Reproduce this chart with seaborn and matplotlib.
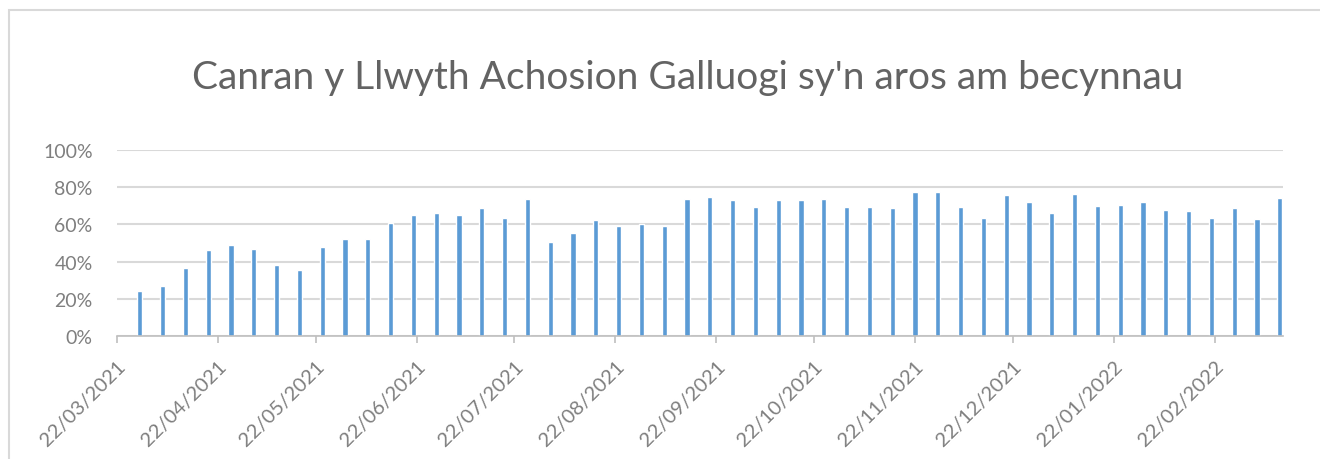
import pandas as pd
import matplotlib.pyplot as plt
import matplotlib.dates as mdates
import seaborn as sns
from matplotlib.patches import Rectangle
from matplotlib.ticker import PercentFormatter

# Weekly share of active caseload waiting for packages (fraction)
first_week = "2021-03-29"
n_weeks = 51
share = [0.242, 0.271, 0.363, 0.461, 0.490, 0.469, 0.384, 0.355, 0.476, 0.519,
         0.519, 0.609, 0.652, 0.659, 0.652, 0.686, 0.637, 0.736, 0.503, 0.553,
         0.623, 0.589, 0.601, 0.589, 0.736, 0.750, 0.729, 0.693, 0.729, 0.729,
         0.736, 0.693, 0.693, 0.686, 0.772, 0.772, 0.693, 0.637, 0.758, 0.722,
         0.659, 0.765, 0.700, 0.707, 0.722, 0.680, 0.673, 0.637, 0.686, 0.630,
         0.743]
axis_start = "2021-03-22"
title = "Canran y Llwyth Achosion Galluogi sy'n aros am becynnau"

weeks = pd.date_range(first_week, periods=n_weeks, freq="7D")
df = pd.DataFrame({"day": mdates.date2num(weeks), "share": share})

sns.set_style("white")
plt.rcParams["font.family"] = ["Lato", "DejaVu Sans"]

grey = "#7f7f7f"
fig = plt.figure(figsize=(13.2, 4.6), dpi=100)
ax = fig.add_axes([0.0886, 0.2674, 0.8834, 0.4043])

sns.barplot(data=df, x="day", y="share", native_scale=True, orient="x",
            width=0.23, color="#5b9bd5", saturation=1, errorbar=None, ax=ax)

ax.set_ylim(0, 1)
ax.set_yticks([0, 0.2, 0.4, 0.6, 0.8, 1.0])
ax.yaxis.set_major_formatter(PercentFormatter(1.0, decimals=0))
ax.grid(axis="y", color="#d9d9d9", linewidth=1.5)
ax.set_axisbelow(True)

ax.set_xlim(mdates.date2num(pd.Timestamp(axis_start)), df["day"].iloc[-1] + 1)
ax.xaxis.set_major_locator(mdates.MonthLocator(bymonthday=22))
ax.xaxis.set_major_formatter(mdates.DateFormatter("%d/%m/%Y"))

for side in ["top", "right", "left"]:
    ax.spines[side].set_visible(False)
ax.spines["bottom"].set_color("#bfbfbf")
ax.spines["bottom"].set_linewidth(1.2)
ax.tick_params(axis="x", bottom=True, length=5, color="#bfbfbf", width=1.2,
               labelsize=14.5, labelcolor=grey, pad=10)
ax.tick_params(axis="y", left=False, labelsize=14, labelcolor=grey, pad=14)
for lab in ax.get_xticklabels():
    lab.set_rotation(45)
    lab.set_ha("right")
    lab.set_rotation_mode("anchor")

ax.set_xlabel("")
ax.set_ylabel("")
fig.text(0.521, 0.83, title, ha="center", va="center", fontsize=28,
         color="#636363")

# chart frame like the Excel chart area
fig.patches.append(Rectangle((9 / 1320, -0.1), 1.2, 1 - 11 / 460 + 0.1,
                             transform=fig.transFigure, fill=False,
                             edgecolor="#d9d9d9", linewidth=1.5))

fig.savefig("out.png", dpi=100)
